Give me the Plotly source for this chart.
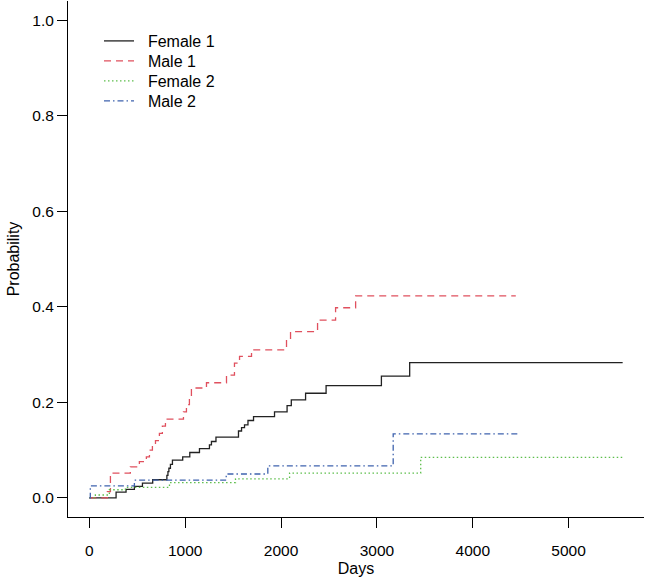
import plotly.graph_objects as go

# ---- data ----
female1_days = [0, 279, 383, 470, 554, 661, 809, 820, 830, 846, 867, 974, 1048, 1149, 1253, 1274, 1321,
                1556, 1588, 1619, 1655, 1713, 1932, 2063, 2107, 2256, 2470, 3047, 3342, 5564]
female1_prob = [0, 0.012, 0.018, 0.024, 0.031, 0.038, 0.047, 0.055, 0.062, 0.070, 0.079, 0.086, 0.095,
                0.103, 0.111, 0.118, 0.127, 0.140, 0.147, 0.153, 0.162, 0.170, 0.180, 0.193, 0.205,
                0.219, 0.235, 0.255, 0.283, 0.283]

male1_days = [0, 188, 220, 428, 522, 595, 627, 658, 690, 731, 762, 794, 982, 1013, 1044, 1065, 1222,
              1431, 1514, 1567, 1692, 2057, 2099, 2381, 2569, 2778, 4449]
male1_prob = [0, 0.013, 0.052, 0.065, 0.076, 0.086, 0.100, 0.110, 0.120, 0.135, 0.150, 0.165, 0.180,
              0.195, 0.210, 0.230, 0.241, 0.257, 0.282, 0.296, 0.310, 0.329, 0.348, 0.372, 0.398,
              0.423, 0.423]

female2_days = [0, 63, 209, 376, 836, 1525, 2089, 3457, 5564]
female2_prob = [0, 0.006, 0.017, 0.022, 0.032, 0.040, 0.052, 0.085, 0.085]

male2_days = [0, 10, 470, 1428, 1862, 3170, 4491]
male2_prob = [0, 0.025, 0.037, 0.050, 0.067, 0.134, 0.134]

series_names = ["Female 1", "Male 1", "Female 2", "Male 2"]
x_ticks = [0, 1000, 2000, 3000, 4000, 5000]
y_ticks = [0.0, 0.2, 0.4, 0.6, 0.8, 1.0]

FONT = "Liberation Sans, Arial, sans-serif"

styles = [
    dict(color="#222222", width=1.3, dash="solid"),
    dict(color="#E0505E", width=1.3, dash="7px,5px"),
    dict(color="#5DBE4C", width=1.3, dash="1.5px,2.5px"),
    dict(color="#3F63AE", width=1.3, dash="6px,3px,1.5px,3px"),
]
data = [(female1_days, female1_prob), (male1_days, male1_prob),
        (female2_days, female2_prob), (male2_days, male2_prob)]
legend_ids = ["legend", "legend2", "legend3", "legend4"]

fig = go.Figure()
for (xs, ys), name, st, lg in zip(data, series_names, styles, legend_ids):
    fig.add_trace(go.Scatter(x=xs, y=ys, mode="lines", name="\u00a0\u00a0" + name,
                             line=dict(shape="hv", **st), legend=lg, showlegend=True))

# plot area pixels: x 68..644, y 1..517
row_px = [41, 61, 81, 101]
def legend_cfg(py):
    return dict(x=(99 - 68) / 576, y=(517 - py) / 516, xanchor="left", yanchor="middle",
                bgcolor="rgba(0,0,0,0)", borderwidth=0, itemwidth=30,
                font=dict(family=FONT, size=16, color="black"))

layout_legends = {lg: legend_cfg(py) for lg, py in zip(legend_ids, row_px)}

fig.update_layout(
    width=647, height=577,
    margin=dict(l=68, r=3, t=1, b=60, autoexpand=False),
    paper_bgcolor="white", plot_bgcolor="white",
    font=dict(family=FONT, size=16, color="black"),
    **layout_legends,
)
fig.update_xaxes(range=[-222.6, 5786.6], tickvals=x_ticks, ticktext=[str(v) for v in x_ticks],
                 showline=True, linecolor="black", linewidth=1, showgrid=False, zeroline=False,
                 ticks="outside", ticklen=10, tickcolor="black", tickwidth=1,
                 ticklabelstandoff=9,
                 tickfont=dict(family=FONT, size=15.5, color="black"),
                 title=dict(text="Days", font=dict(family=FONT, size=16), standoff=6))
fig.update_yaxes(range=[-0.04, 1.04], tickvals=y_ticks, ticktext=[f"{v:.1f}" for v in y_ticks],
                 showline=True, linecolor="black", linewidth=1, showgrid=False, zeroline=False,
                 ticks="outside", ticklen=10, tickcolor="black", tickwidth=1,
                 tickfont=dict(family=FONT, size=15.5, color="black"),
                 title=dict(text="Probability", font=dict(family=FONT, size=16), standoff=8))

fig.write_html("out.html", config={"displayModeBar": False},
               post_script="document.body.style.margin='0px';")
